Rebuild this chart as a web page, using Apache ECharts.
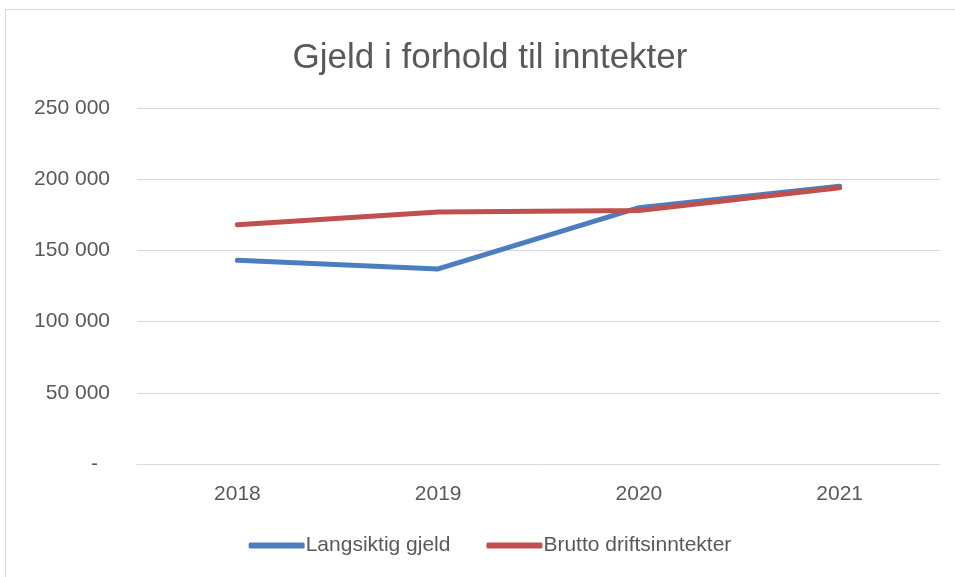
<!DOCTYPE html>
<html>
<head>
<meta charset="utf-8">
<script src="https://cdn.jsdelivr.net/npm/echarts@6/dist/echarts.min.js"></script>
<style>
  html, body { margin: 0; padding: 0; background: #fff; overflow: hidden; }
  #frame { position: absolute; left: 5px; top: 9px; width: 980px; height: 580px; border: 1px solid #d9d9d9; box-sizing: border-box; }
  #chart { position: absolute; left: 0; top: 0; width: 980px; height: 577px; }
</style>
</head>
<body>
<div id="frame"></div>
<div id="chart"></div>
<script>
// årstall og verdier
const years = ['2018', '2019', '2020', '2021']
const langsiktigGjeld = [143000, 137000, 180000, 195000]
const bruttoDriftsinntekter = [168000, 177000, 178000, 194000]

const chart = echarts.init(document.getElementById('chart'))

function fmt(v) {
  if (v === 0) return '{dash|-}'
  return String(v).replace(/\B(?=(\d{3})+(?!\d))/g, ' ')
}

chart.setOption({
  animation: false,
  textStyle: { fontFamily: 'Liberation Sans', color: '#595959' },
  title: {
    text: 'Gjeld i forhold til inntekter',
    left: 'center',
    top: 36,
    textStyle: { fontSize: 35, fontWeight: 'normal', color: '#595959', fontFamily: 'Liberation Sans' }
  },
  grid: { left: 137, right: 40, top: 108, bottom: 113 },
  legend: {
    bottom: 16,
    left: 'center',
    itemWidth: 56,
    itemHeight: 6,
    itemGap: 36,
    icon: 'roundRect',
    textStyle: { fontSize: 21, color: '#595959', padding: [0, 0, 0, -4] },
    data: ['Langsiktig gjeld', 'Brutto driftsinntekter']
  },
  xAxis: {
    type: 'category',
    data: years,
    boundaryGap: true,
    axisLine: { lineStyle: { color: '#d9d9d9', width: 1 } },
    axisTick: { show: false },
    axisLabel: { fontSize: 21, color: '#595959', margin: 20 }
  },
  yAxis: {
    type: 'value',
    min: 0,
    max: 250000,
    interval: 50000,
    axisLine: { show: false },
    axisTick: { show: false },
    splitLine: { lineStyle: { color: '#d9d9d9', width: 1 } },
    axisLabel: {
      fontSize: 21,
      color: '#595959',
      margin: 27,
      formatter: fmt,
      rich: { dash: { fontSize: 21, color: '#595959', padding: [0, 12, 0, 0] } }
    }
  },
  series: [
    {
      name: 'Langsiktig gjeld',
      type: 'line',
      data: langsiktigGjeld,
      symbol: 'none',
      lineStyle: { width: 5, color: '#4a7ebf', cap: 'round', join: 'round' },
      itemStyle: { color: '#4a7ebf' }
    },
    {
      name: 'Brutto driftsinntekter',
      type: 'line',
      data: bruttoDriftsinntekter,
      symbol: 'none',
      lineStyle: { width: 5, color: '#c0504d', cap: 'round', join: 'round' },
      itemStyle: { color: '#c0504d' }
    }
  ]
})
</script>
</body>
</html>
